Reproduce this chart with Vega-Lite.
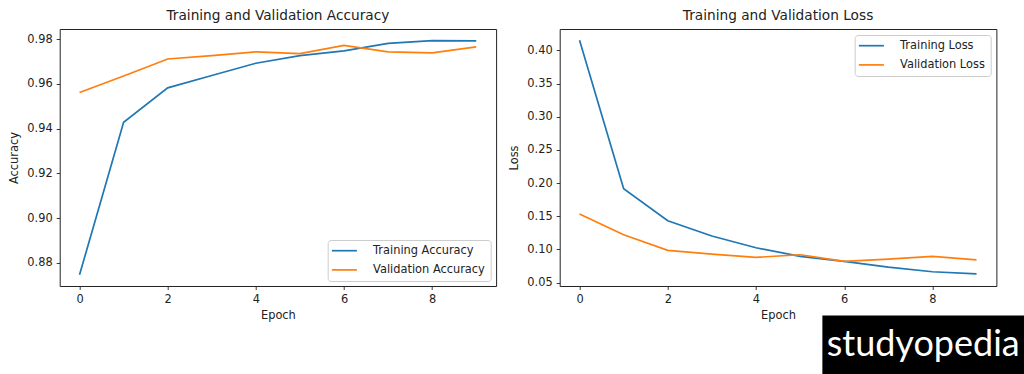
{
  "$schema": "https://vega.github.io/schema/vega-lite/v6.json",
  "background": "white",
  "padding": {"left": 7.7, "top": 8, "right": 0, "bottom": 0},
  "spacing": 11,
  "config": {
    "font": "DejaVu Sans",
    "view": {"stroke": "#222", "strokeWidth": 1},
    "axis": {
      "grid": false,
      "domain": false,
      "tickColor": "#222",
      "tickSize": 3.5,
      "tickWidth": 0.9,
      "labelOverlap": false,
      "labelFont": "DejaVu Sans",
      "labelFontSize": 11.4,
      "labelColor": "#222",
      "titleFont": "DejaVu Sans",
      "titleFontSize": 11.4,
      "titleFontWeight": "normal",
      "titleColor": "#222"
    },
    "axisX": {"labelPadding": 4.5, "titlePadding": 4},
    "axisY": {"labelPadding": 4, "titlePadding": 7.3},
    "title": {"font": "DejaVu Sans", "fontSize": 13.7, "fontWeight": "normal", "color": "#222", "offset": 6}
  },
  "datasets": {
    "accuracy": [
      {"epoch": 0, "series": "Training Accuracy", "value": 0.8746},
      {"epoch": 1, "series": "Training Accuracy", "value": 0.9428},
      {"epoch": 2, "series": "Training Accuracy", "value": 0.9582},
      {"epoch": 3, "series": "Training Accuracy", "value": 0.9637},
      {"epoch": 4, "series": "Training Accuracy", "value": 0.9692},
      {"epoch": 5, "series": "Training Accuracy", "value": 0.9726},
      {"epoch": 6, "series": "Training Accuracy", "value": 0.9747},
      {"epoch": 7, "series": "Training Accuracy", "value": 0.9781},
      {"epoch": 8, "series": "Training Accuracy", "value": 0.9793},
      {"epoch": 9, "series": "Training Accuracy", "value": 0.9792},
      {"epoch": 0, "series": "Validation Accuracy", "value": 0.9561},
      {"epoch": 1, "series": "Validation Accuracy", "value": 0.9635},
      {"epoch": 2, "series": "Validation Accuracy", "value": 0.9711},
      {"epoch": 3, "series": "Validation Accuracy", "value": 0.9726},
      {"epoch": 4, "series": "Validation Accuracy", "value": 0.9743},
      {"epoch": 5, "series": "Validation Accuracy", "value": 0.9735},
      {"epoch": 6, "series": "Validation Accuracy", "value": 0.9772},
      {"epoch": 7, "series": "Validation Accuracy", "value": 0.9743},
      {"epoch": 8, "series": "Validation Accuracy", "value": 0.9738},
      {"epoch": 9, "series": "Validation Accuracy", "value": 0.9765}
    ],
    "loss": [
      {"epoch": 0, "series": "Training Loss", "value": 0.4151},
      {"epoch": 1, "series": "Training Loss", "value": 0.1914},
      {"epoch": 2, "series": "Training Loss", "value": 0.1431},
      {"epoch": 3, "series": "Training Loss", "value": 0.1201},
      {"epoch": 4, "series": "Training Loss", "value": 0.1024},
      {"epoch": 5, "series": "Training Loss", "value": 0.0895},
      {"epoch": 6, "series": "Training Loss", "value": 0.0819},
      {"epoch": 7, "series": "Training Loss", "value": 0.0733},
      {"epoch": 8, "series": "Training Loss", "value": 0.0663},
      {"epoch": 9, "series": "Training Loss", "value": 0.0632},
      {"epoch": 0, "series": "Validation Loss", "value": 0.1532},
      {"epoch": 1, "series": "Validation Loss", "value": 0.1220},
      {"epoch": 2, "series": "Validation Loss", "value": 0.0985},
      {"epoch": 3, "series": "Validation Loss", "value": 0.0929},
      {"epoch": 4, "series": "Validation Loss", "value": 0.0880},
      {"epoch": 5, "series": "Validation Loss", "value": 0.0919},
      {"epoch": 6, "series": "Validation Loss", "value": 0.0819},
      {"epoch": 7, "series": "Validation Loss", "value": 0.0854},
      {"epoch": 8, "series": "Validation Loss", "value": 0.0895},
      {"epoch": 9, "series": "Validation Loss", "value": 0.0843}
    ],
    "watermark": [{"label": "studyopedia"}]
  },
  "resolve": {"scale": {"color": "independent"}, "legend": {"color": "independent"}},
  "hconcat": [
    {
      "width": 436.4,
      "height": 257,
      "title": "Training and Validation Accuracy",
      "data": {"name": "accuracy"},
      "mark": {"type": "line", "strokeWidth": 1.7},
      "encoding": {
        "x": {
          "field": "epoch", "type": "quantitative", "title": "Epoch",
          "scale": {"domain": [-0.45, 9.45], "nice": false, "zero": false},
          "axis": {"values": [0, 2, 4, 6, 8], "format": "d"}
        },
        "y": {
          "field": "value", "type": "quantitative", "title": "Accuracy",
          "scale": {"domain": [0.8696, 0.9845], "nice": false, "zero": false},
          "axis": {"values": [0.88, 0.90, 0.92, 0.94, 0.96, 0.98], "format": ".2f"}
        },
        "color": {
          "field": "series", "type": "nominal",
          "scale": {"domain": ["Training Accuracy", "Validation Accuracy"], "range": ["#1f77b4", "#ff7f0e"]},
          "legend": {
            "title": null, "orient": "bottom-right", "offset": 5.5,
            "symbolType": "M-2.78,0H2.78", "symbolSize": 81, "symbolStrokeWidth": 1.7,
            "symbolOffset": 6, "labelOffset": 23, "rowPadding": 6.2, "padding": 5,
            "labelFont": "DejaVu Sans", "labelFontSize": 11.4, "labelColor": "#222", "labelLimit": 300,
            "strokeColor": "#cccccc", "fillColor": "rgba(255,255,255,0.8)", "cornerRadius": 3
          }
        }
      }
    },
    {
      "width": 436.7,
      "height": 257,
      "title": "Training and Validation Loss",
      "layer": [
        {
          "data": {"name": "loss"},
          "mark": {"type": "line", "strokeWidth": 1.7},
          "encoding": {
            "x": {
              "field": "epoch", "type": "quantitative", "title": "Epoch",
              "scale": {"domain": [-0.45, 9.45], "nice": false, "zero": false},
              "axis": {"values": [0, 2, 4, 6, 8], "format": "d", "labelOverlap": false}
            },
            "y": {
              "field": "value", "type": "quantitative", "title": "Loss",
              "scale": {"domain": [0.0448, 0.4322], "nice": false, "zero": false},
              "axis": {"values": [0.05, 0.10, 0.15, 0.20, 0.25, 0.30, 0.35, 0.40], "format": ".2f", "labelOverlap": false}
            },
            "color": {
              "field": "series", "type": "nominal",
              "scale": {"domain": ["Training Loss", "Validation Loss"], "range": ["#1f77b4", "#ff7f0e"]},
              "legend": {
                "title": null, "orient": "top-right", "offset": 5.5,
                "symbolType": "M-2.78,0H2.78", "symbolSize": 81, "symbolStrokeWidth": 1.7,
                "symbolOffset": 6, "labelOffset": 23, "rowPadding": 6.2, "padding": 5,
                "labelFont": "DejaVu Sans", "labelFontSize": 11.4, "labelColor": "#222", "labelLimit": 300,
                "strokeColor": "#cccccc", "fillColor": "rgba(255,255,255,0.8)", "cornerRadius": 3
              }
            }
          }
        },
        {
          "data": {"name": "watermark"},
          "mark": {"type": "rect", "color": "black", "clip": false},
          "encoding": {
            "x": {"datum": 5.505, "type": "quantitative", "title": "Epoch",
              "axis": {"values": [0, 2, 4, 6, 8], "format": "d", "labelOverlap": false}},
            "x2": {"datum": 10.2},
            "y": {"datum": 0.0003, "type": "quantitative", "title": "Loss",
              "axis": {"values": [0.05, 0.10, 0.15, 0.20, 0.25, 0.30, 0.35, 0.40], "format": ".2f", "labelOverlap": false}},
            "y2": {"datum": -0.09}
          }
        },
        {
          "data": {"name": "watermark"},
          "mark": {"type": "text", "color": "white", "font": "Lato", "fontSize": 36, "align": "center", "baseline": "alphabetic", "clip": false},
          "encoding": {
            "x": {"datum": 7.79, "type": "quantitative", "title": "Epoch",
              "axis": {"values": [0, 2, 4, 6, 8], "format": "d", "labelOverlap": false}},
            "y": {"datum": -0.0602, "type": "quantitative", "title": "Loss",
              "axis": {"values": [0.05, 0.10, 0.15, 0.20, 0.25, 0.30, 0.35, 0.40], "format": ".2f", "labelOverlap": false}},
            "text": {"field": "label"}
          }
        }
      ]
    }
  ]
}
